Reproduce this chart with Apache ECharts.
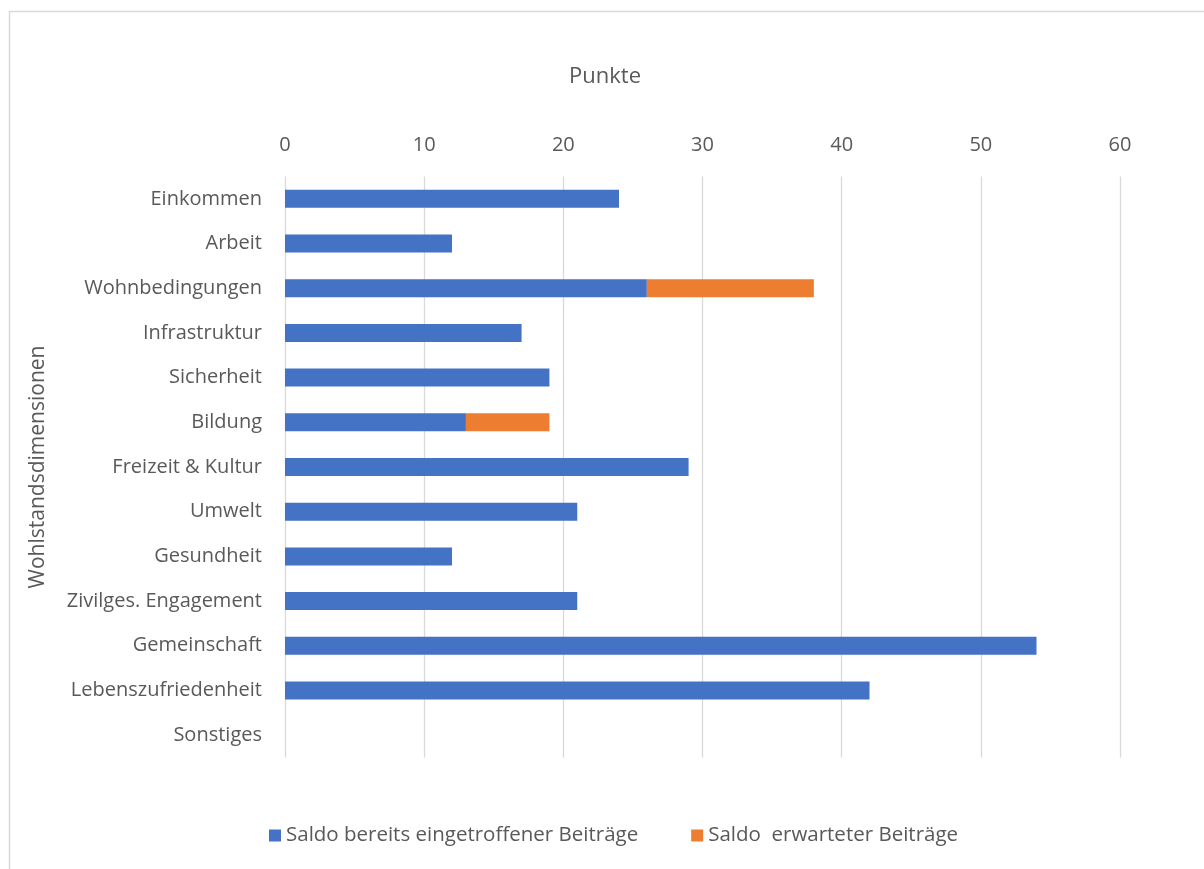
<!DOCTYPE html>
<html>
<head>
<meta charset="utf-8">
<script src="https://cdn.jsdelivr.net/npm/echarts@6/dist/echarts.min.js"></script>
<style>
  html, body { margin: 0; padding: 0; background: #ffffff; }
  #chart { width: 1204px; height: 869px; }
</style>
</head>
<body>
<div id="chart"></div>
<script>
// Wohlstandsdimensionen und Saldo der Beiträge (Punkte)
const categories = [
  'Einkommen', 'Arbeit', 'Wohnbedingungen', 'Infrastruktur', 'Sicherheit',
  'Bildung', 'Freizeit & Kultur', 'Umwelt', 'Gesundheit',
  'Zivilges. Engagement', 'Gemeinschaft', 'Lebenszufriedenheit', 'Sonstiges'
];
const eingetroffen = [24, 12, 26, 17, 19, 13, 29, 21, 12, 21, 54, 42, 0];
const erwartet     = [0, 0, 12, 0, 0, 6, 0, 0, 0, 0, 0, 0, 0];
const seriesNames = ['Saldo bereits eingetroffener Beiträge', 'Saldo  erwarteter Beiträge'];
const xTicks = { min: 0, max: 60, interval: 10 };

const FONT = 'Open Sans';
const TEXT = '#595959';

const chart = echarts.init(document.getElementById('chart'), null, { renderer: 'canvas' });
chart.setOption({
  backgroundColor: '#ffffff',
  animation: false,
  title: {
    text: 'Punkte',
    left: 600, top: 61,
    textAlign: 'center',
    textStyle: { fontFamily: FONT, fontSize: 22, fontWeight: 'normal', color: TEXT }
  },
  graphic: [{
    type: 'rect',
    left: 7, top: 9,
    shape: { width: 1210, height: 880 },
    style: { fill: 'none', stroke: '#d9d9d9', lineWidth: 1.5 },
    silent: true
  }],
  grid: { left: 285, right: 84, top: 176.5, bottom: 111.5, containLabel: false },
  legend: {
    left: 264, top: 820,
    itemWidth: 12, itemHeight: 12, itemGap: 53,
    icon: 'rect',
    textStyle: { fontFamily: FONT, fontSize: 20.5, color: TEXT },
    data: seriesNames
  },
  xAxis: {
    type: 'value',
    position: 'top',
    min: xTicks.min, max: xTicks.max, interval: xTicks.interval,
    axisLine: { show: false },
    axisTick: { show: false },
    axisLabel: { fontFamily: FONT, fontSize: 20, color: TEXT, margin: 21 },
    splitLine: { lineStyle: { color: '#d9d9d9', width: 1.3 } }
  },
  yAxis: {
    type: 'category',
    inverse: true,
    data: categories,
    name: 'Wohlstandsdimensionen',
    nameLocation: 'middle',
    nameGap: 236,
    nameRotate: 90,
    nameTextStyle: { fontFamily: FONT, fontSize: 21, color: TEXT },
    axisLine: { show: false },
    axisTick: { show: false },
    axisLabel: { fontFamily: FONT, fontSize: 20, color: TEXT, margin: 23 },
    splitLine: { show: false }
  },
  series: [
    {
      name: seriesNames[0], type: 'bar', stack: 'saldo',
      data: eingetroffen, barWidth: 18,
      itemStyle: { color: '#4472c4' }
    },
    {
      name: seriesNames[1], type: 'bar', stack: 'saldo',
      data: erwartet, barWidth: 18,
      itemStyle: { color: '#ed7d31' }
    }
  ]
});
</script>
</body>
</html>
